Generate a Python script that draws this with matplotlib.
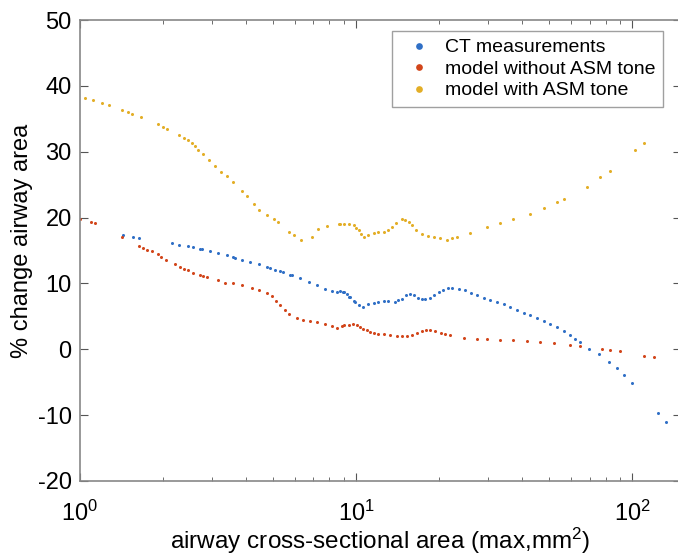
import numpy as np
import matplotlib
matplotlib.use("Agg")
import matplotlib.pyplot as plt
from matplotlib.ticker import LogLocator, FixedLocator, NullFormatter

plt.rcParams['font.family'] = ['Liberation Sans', 'DejaVu Sans']
plt.rcParams['mathtext.fontset'] = 'custom'
plt.rcParams['mathtext.rm'] = 'Liberation Sans'
plt.rcParams['mathtext.it'] = 'Liberation Sans'
plt.rcParams['axes.unicode_minus'] = False

# CT measurements
ct_x = [1.435, 1.55, 1.64, 2.15, 2.29, 2.47, 2.57, 2.72, 2.76, 2.96, 3.17, 3.40, 3.59,
        3.64, 3.85, 4.13, 4.43, 4.75, 4.88, 5.09, 5.30, 5.45, 5.77, 5.85, 6.27, 6.72,
        7.20, 7.72, 8.17, 8.51, 8.75, 8.95, 9.0, 9.25, 9.38, 9.51, 9.78, 9.92, 10.28,
        10.6, 11.08, 11.6, 12.04, 12.6, 13.09, 13.8, 14.23, 14.6, 15.18, 15.7, 16.23,
        16.8, 17.3, 17.8, 18.44, 19.1, 19.87, 20.7, 21.42, 22.2, 23.48, 24.8, 26.04,
        27.4, 28.93, 30.6, 32.35, 34.2, 36.14, 38.2, 40.38, 42.7, 45.15, 47.7, 50.46,
        53.4, 56.38, 59.6, 62.15, 64.8, 69.5, 75.5, 82.1, 88.0, 93.0, 99.7, 124, 132]
ct_y = [17.3, 17.0, 16.9, 16.2, 15.9, 15.7, 15.5, 15.3, 15.2, 14.9, 14.6, 14.3, 14.0,
        13.9, 13.6, 13.3, 12.9, 12.5, 12.4, 12.1, 11.9, 11.7, 11.3, 11.2, 10.8, 10.2,
        9.7, 9.2, 8.8, 8.65, 8.8, 8.7, 8.65, 8.35, 8.0, 7.95, 7.3, 7.1, 6.7,
        6.4, 6.8, 7.0, 7.2, 7.3, 7.3, 7.2, 7.45, 7.7, 8.2, 8.45, 8.2,
        7.8, 7.6, 7.6, 7.85, 8.2, 8.7, 9.05, 9.3, 9.35, 9.2, 8.95, 8.55,
        8.2, 7.85, 7.55, 7.2, 6.8, 6.4, 6.0, 5.55, 5.15, 4.75, 4.3, 3.9,
        3.4, 2.8, 2.1, 1.6, 1.1, 0.1, -0.76, -1.9, -2.9, -3.95, -5.1, -9.7, -11.0]

# model without ASM tone
nt_x = [1.00, 1.10, 1.13, 1.42, 1.63, 1.69, 1.75, 1.82, 1.91, 1.97, 2.05, 2.21, 2.30,
        2.38, 2.47, 2.57, 2.72, 2.80, 2.88, 3.17, 3.35, 3.59, 3.85, 4.19, 4.43, 4.75,
        4.95, 5.13, 5.30, 5.53, 5.73, 6.10, 6.44, 6.81, 7.20, 7.72, 8.17, 8.55, 8.87,
        9.05, 9.38, 9.73, 10.06, 10.34, 10.6, 10.93, 11.2, 11.62, 12.0, 12.56, 13.3,
        14.04, 14.6, 15.26, 15.9, 16.59, 17.3, 17.93, 18.5, 19.33, 20.2, 21.0, 21.9,
        24.5, 27.4, 29.8, 33.2, 37.1, 41.5, 46.4, 51.9, 59.6, 64.8, 77.7, 83.2, 90.0,
        110.5, 119.5]
nt_y = [19.8, 19.3, 19.1, 17.0, 15.7, 15.4, 15.1, 14.9, 14.4, 14.0, 13.6, 12.9, 12.5,
        12.2, 12.0, 11.6, 11.2, 11.1, 10.9, 10.5, 10.1, 10.0, 9.7, 9.35, 9.05, 8.6,
        8.1, 7.3, 6.7, 5.9, 5.4, 4.8, 4.5, 4.3, 4.1, 3.8, 3.5, 3.3, 3.55,
        3.65, 3.75, 3.8, 3.7, 3.4, 3.1, 2.9, 2.6, 2.45, 2.3, 2.25, 2.1,
        2.05, 2.0, 2.05, 2.2, 2.5, 2.7, 2.9, 2.9, 2.75, 2.5, 2.3, 2.1,
        1.7, 1.5, 1.5, 1.35, 1.35, 1.25, 1.1, 0.95, 0.7, 0.45, 0.1, -0.05, -0.25,
        -1.0, -1.25]

# model with ASM tone
wt_x = [1.04, 1.11, 1.20, 1.27, 1.42, 1.49, 1.54, 1.66, 1.91, 2.00, 2.07, 2.28, 2.38,
        2.46, 2.54, 2.61, 2.68, 2.80, 2.94, 3.08, 3.24, 3.40, 3.58, 3.85, 4.02, 4.25,
        4.46, 4.77, 5.02, 5.23, 5.73, 5.96, 6.32, 6.91, 7.30, 7.83, 8.63, 8.75, 9.0,
        9.38, 9.78, 10.0, 10.2, 10.4, 10.7, 11.08, 11.6, 12.04, 12.6, 12.99, 13.5,
        13.96, 14.6, 15.05, 15.47, 15.9, 16.5, 17.3, 18.13, 19.1, 20.15, 21.3, 22.22,
        23.2, 25.9, 29.8, 33.2, 37.1, 42.7, 47.7, 53.4, 56.4, 68.5, 76.6, 83.2, 102.5,
        109.9]
wt_y = [38.1, 37.8, 37.4, 37.1, 36.4, 36.1, 35.8, 35.3, 34.2, 33.7, 33.4, 32.5, 32.1,
        31.8, 31.3, 30.8, 30.3, 29.6, 28.7, 27.8, 26.9, 26.3, 25.4, 24.0, 23.2, 22.1,
        21.2, 20.4, 19.8, 19.3, 17.8, 17.3, 16.6, 17.1, 18.2, 18.7, 19.0, 19.0, 19.05,
        19.05, 18.8, 18.45, 18.1, 17.45, 17.0, 17.4, 17.6, 17.75, 17.8, 18.05, 18.6,
        19.15, 19.8, 19.7, 19.3, 18.8, 18.05, 17.5, 17.2, 17.0, 16.9, 16.6, 16.95,
        17.0, 17.6, 18.5, 19.1, 19.8, 20.6, 21.5, 22.4, 22.8, 24.7, 26.1, 27.1, 30.2,
        31.3]

labels = ['CT measurements', 'model without ASM tone', 'model with ASM tone']
colors = ['#2f6fc6', '#d2451a', '#e3ae26']

fig = plt.figure(figsize=(6.78, 5.56), dpi=100)
ax = fig.add_axes([0.118, 0.135, 0.8864, 0.829])

for xs, ys, lab, c in zip([ct_x, nt_x, wt_x], [ct_y, nt_y, wt_y], labels, colors):
    ax.plot(xs, ys, linestyle='none', marker='o', markersize=2.2,
            markeredgewidth=0, color=c, label=lab)

ax.set_xscale('log')
ax.set_xlim(1, 150)
ax.set_ylim(-20, 50)
ax.set_yticks(np.arange(-20, 51, 10))
ax.xaxis.set_major_locator(FixedLocator([1, 10, 100]))
ax.set_xticklabels(['$10^0$', '$10^1$', '$10^2$'])
ax.xaxis.set_minor_locator(LogLocator(base=10, subs=np.arange(2, 10)))
ax.xaxis.set_minor_formatter(NullFormatter())

ax.tick_params(which='both', direction='in', top=True, right=True,
               color='#555555', labelsize=17, pad=6)
ax.tick_params(axis='x', which='major', pad=14)
ax.tick_params(which='major', length=6)
ax.tick_params(which='minor', length=3)
for sp in ax.spines.values():
    sp.set_color('#888888')
    sp.set_linewidth(1.2)

ax.set_ylabel('% change airway area', fontsize=17)
ax.yaxis.set_label_coords(-0.078, 0.52)
ax.set_xlabel('airway cross-sectional area (max,mm$^2$)', fontsize=17.5, labelpad=0)

leg = ax.legend(loc='upper right', fontsize=14, markerscale=2.2, handletextpad=0.3,
                borderpad=0.4, labelspacing=0.2, fancybox=False, borderaxespad=0,
                bbox_to_anchor=(0.970, 0.976))
leg.get_frame().set_edgecolor('#888888')
leg.get_frame().set_linewidth(1.0)

fig.savefig('out.png', dpi=100)
